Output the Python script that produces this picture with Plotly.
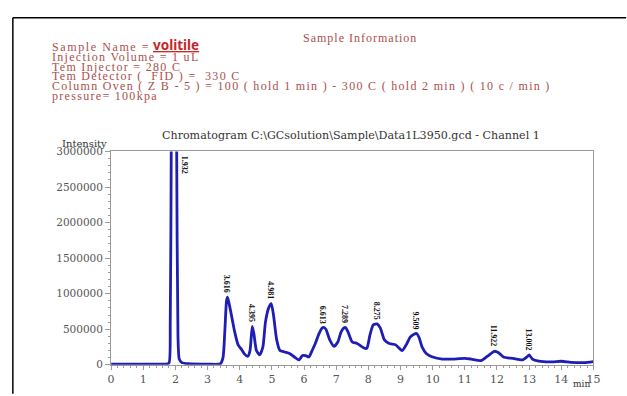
import plotly.graph_objects as go

W, H = 627, 396

# ---- data ----
time_min = [0.0, 1.0, 1.7, 1.80, 1.84, 1.87, 1.90, 1.95, 2.00, 2.04, 2.08, 2.12, 2.2, 2.4, 3.0, 3.40,
            3.48, 3.54, 3.59, 3.62, 3.67, 3.75, 3.85, 3.95, 4.05, 4.15, 4.25, 4.32, 4.39, 4.44, 4.52,
            4.62, 4.72, 4.80, 4.90, 4.98, 5.05, 5.15, 5.25, 5.40, 5.55, 5.70, 5.85, 5.95, 6.05, 6.15,
            6.25, 6.35, 6.45, 6.55, 6.61, 6.68, 6.80, 6.93, 7.05, 7.15, 7.23, 7.29, 7.37, 7.50, 7.65,
            7.85, 7.95, 8.05, 8.15, 8.27, 8.37, 8.50, 8.65, 8.85, 9.05, 9.20, 9.30, 9.42, 9.50, 9.58,
            9.68, 9.80, 10.0, 10.3, 10.6, 11.0, 11.2, 11.5, 11.7, 11.92, 12.05, 12.2, 12.5, 12.8,
            12.93, 13.0, 13.1, 13.3, 13.7, 14.0, 14.3, 14.7, 15.0]
intensity = [10000, 10000, 10000, 25000, 600000, 3000000, 8000000, 12000000, 8000000, 3000000, 400000,
             80000, 30000, 15000, 10000, 15000,
             100000, 500000, 900000, 950000, 860000, 680000, 450000, 280000, 220000, 150000, 120000,
             200000, 540000, 440000, 200000,
             140000, 250000, 600000, 800000, 860000, 700000, 350000, 200000, 180000, 160000, 110000,
             70000, 130000, 130000, 110000,
             200000, 300000, 420000, 510000, 525000, 500000, 350000, 260000, 320000, 460000, 515000,
             525000, 460000, 320000, 300000,
             240000, 230000, 420000, 560000, 575000, 520000, 350000, 300000, 280000, 200000, 300000,
             390000, 430000, 440000, 380000,
             240000, 160000, 110000, 80000, 80000, 90000, 80000, 60000, 120000, 190000, 170000, 110000,
             90000, 70000,
             110000, 140000, 80000, 50000, 40000, 50000, 35000, 30000, 45000]

peak_labels = ["1.932", "3.616", "4.395", "4.981", "6.613", "7.289", "8.275", "9.509", "11.922", "13.002"]
peak_times = [2.29, 3.616, 4.395, 4.981, 6.613, 7.289, 8.275, 9.509, 11.922, 13.002]
peak_heights = [3000000, 950000, 540000, 860000, 525000, 525000, 575000, 440000, 190000, 140000]

x_ticks = list(range(0, 16))
y_ticks = [0, 500000, 1000000, 1500000, 2000000, 2500000, 3000000]

info_lines = [
    "Injection Volume = 1 uL",
    "Tem Injector = 280 C",
    "Tem Detector (  FID ) =  330 C",
    "Column Oven ( Z B - 5 ) = 100 ( hold 1 min ) - 300 C ( hold 2 min ) ( 10 c / min )",
    "pressure= 100kpa",
]

# ---- layout helpers (pixel -> paper) ----
def px(x):
    return x / W

def py(y):
    return 1 - y / H

X0, X1, Y0, Y1 = 109, 600, 150, 370
serif = "DejaVu Serif, serif"
tserif = "Liberation Serif, Times New Roman, serif"
red = "#ab4f4c"
axis_grey = "#9a9a9a"
info_size = 12


def spaced(s, ls=1.3):
    return "<span style='letter-spacing:%.2fpx'>%s</span>" % (ls, s)


fig = go.Figure()
fig.add_trace(go.Scatter(x=time_min, y=intensity, mode="lines",
                         line=dict(color="#1e1eb4", width=2.8, shape="spline", smoothing=0.6),
                         hoverinfo="skip", showlegend=False))

fig.update_layout(
    width=W, height=H,
    margin=dict(l=0, r=0, t=0, b=0),
    paper_bgcolor="white", plot_bgcolor="white",
    xaxis=dict(domain=[px(X0), px(X1)], range=[0, 15], tickvals=x_ticks,
               showline=True, linecolor=axis_grey, linewidth=1, mirror=True,
               ticks="outside", ticklen=4, tickcolor=axis_grey,
               minor=dict(dtick=0.2, ticklen=2, tickcolor=axis_grey, ticks="outside"),
               showgrid=False, zeroline=False,
               tickfont=dict(family=serif, size=11, color="#555555")),
    yaxis=dict(domain=[py(Y1), py(Y0)], range=[0, 3000000], tickvals=y_ticks,
               ticktext=[str(v) for v in y_ticks],
               showline=True, linecolor=axis_grey, linewidth=1, mirror=True,
               ticks="outside", ticklen=5, tickcolor=axis_grey,
               minor=dict(dtick=100000, ticklen=2.5, tickcolor=axis_grey, ticks="outside"),
               showgrid=False, zeroline=False,
               tickfont=dict(family=serif, size=10.5, color="#555555")),
)

ann = []
# peak labels
for lab, t, h in zip(peak_labels, peak_times, peak_heights):
    if lab == "1.932":
        ann.append(dict(x=t, y=h, xref="x", yref="y", text="<b>" + lab + "</b>", showarrow=False,
                        textangle=90, xanchor="center", yanchor="top", yshift=-2,
                        font=dict(family=tserif, size=8, color="#111111")))
    else:
        ann.append(dict(x=t, y=h, xref="x", yref="y", text="<b>" + lab + "</b>", showarrow=False,
                        textangle=90, xanchor="center", yanchor="bottom", yshift=2, xshift=-1,
                        font=dict(family=tserif, size=8, color="#111111")))

# chart title, axis labels
ann.append(dict(x=px(353), y=py(134), xref="paper", yref="paper", showarrow=False,
                text="Chromatogram C:\\GCsolution\\Sample\\Data1L3950.gcd - Channel 1",
                font=dict(family=serif, size=11.1, color="#333333"), xanchor="center", yanchor="middle"))
ann.append(dict(x=px(82), y=py(142), xref="paper", yref="paper", showarrow=False, text="Intensity",
                font=dict(family=serif, size=10, color="#333333"), xanchor="center", yanchor="middle"))
ann.append(dict(x=px(588), y=py(390), xref="paper", yref="paper", showarrow=False, text="min",
                font=dict(family=serif, size=9, color="#333333"), xanchor="center", yanchor="middle"))

# sample information block
ann.append(dict(x=px(362), y=py(33), xref="paper", yref="paper", showarrow=False,
                text=spaced("Sample Information", 1.0),
                font=dict(family=tserif, size=info_size, color=red), xanchor="center", yanchor="middle"))
ann.append(dict(x=px(47), y=py(42.5), xref="paper", yref="paper", showarrow=False,
                text=spaced("Sample Name =", 1.6),
                font=dict(family=tserif, size=info_size, color=red), xanchor="left", yanchor="middle"))
ann.append(dict(x=px(150), y=py(40.5), xref="paper", yref="paper", showarrow=False, text="<b><u>volitile</u></b>",
                font=dict(family="Noto Sans, Arial, sans-serif", size=13.5, color="#c62828"),
                xanchor="left", yanchor="middle"))
for i, line in enumerate(info_lines):
    ann.append(dict(x=px(47), y=py(53 + 9.85 * i), xref="paper", yref="paper", showarrow=False,
                    text=spaced(line),
                    font=dict(family=tserif, size=info_size, color=red), xanchor="left", yanchor="middle"))

fig.update_layout(annotations=ann)

# outer black frame (top and left edges visible)
fig.add_shape(type="line", xref="paper", yref="paper", x0=px(9), x1=1.01, y0=py(12), y1=py(12),
              line=dict(color="black", width=1.5))
fig.add_shape(type="line", xref="paper", yref="paper", x0=px(9), x1=px(9), y0=py(12), y1=-0.01,
              line=dict(color="black", width=1.5))

fig.write_html("out.html")
